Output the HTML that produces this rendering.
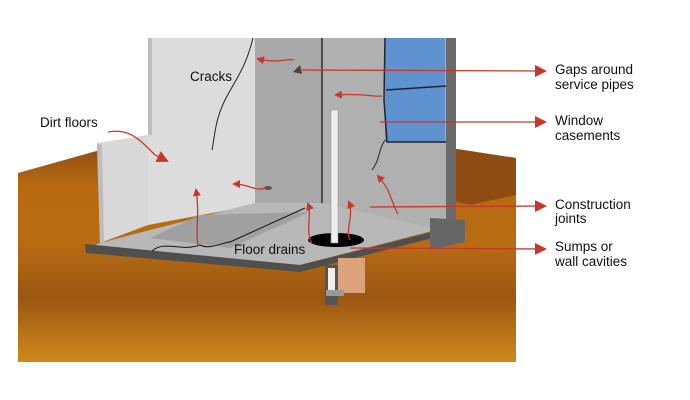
<!DOCTYPE html>
<html><head><style>
body{margin:0;background:#fff;width:690px;height:400px;overflow:hidden}
svg{display:block}
text{font-family:"Liberation Sans",sans-serif;font-size:13.5px;fill:#111}
</style></head><body>
<svg width="690" height="400" viewBox="0 0 690 400">
<defs>
<linearGradient id="soil" x1="0" y1="0" x2="0" y2="1">
<stop offset="0" stop-color="#8f4f12"/><stop offset="0.18" stop-color="#b86a10"/>
<stop offset="0.45" stop-color="#b76c12"/><stop offset="0.7" stop-color="#9b5612"/><stop offset="1" stop-color="#cf8a1c"/>
</linearGradient>
<marker id="ah" markerWidth="8" markerHeight="8" refX="6" refY="4" orient="auto" markerUnits="userSpaceOnUse"><path d="M0,0 L8,4 L0,8z" fill="#c8372a"/></marker>
<marker id="ab" markerWidth="12" markerHeight="12" refX="10" refY="6" orient="auto" markerUnits="userSpaceOnUse"><path d="M0,0 L12,6 L0,12z" fill="#c8372a"/></marker>
</defs>
<!-- soil -->
<path d="M18,173 L100,150 L450,148 L516,158 L516,362 L18,362z" fill="url(#soil)"/>
<path d="M450,148 L516,158 L516,195 L470,205 L450,200z" fill="#8e4c12"/>
<!-- walls -->
<path d="M148,38 L255,38 L255,205 L148,225z" fill="#dcdcdc"/>
<path d="M97,143 L148,135 L148,225 L100,243z" fill="#d8d8d8"/>
<path d="M97,143 L100,243 L104,243 L102,145z" fill="#bdbdbd"/>
<path d="M148,38 L152,38 L152,135 L148,135z" fill="#bdbdbd"/>
<path d="M255,38 L322,38 L322,203 L255,203z" fill="#a9a9a9"/>
<path d="M322,38 L450,38 L450,232 L322,205z" fill="#b0b0b0"/>
<rect x="385" y="38" width="60" height="104" fill="#5f93cf"/>
<path d="M385,38 L384,100 L387,142 L446,142 M386,90 L446,86" stroke="#1c2533" stroke-width="1.5" fill="none"/>
<rect x="446" y="38" width="10" height="190" fill="#6a6a6a"/>
<path d="M322,38 L322,203 L305,210" stroke="#111" stroke-width="1.2" fill="none"/>
<!-- floor -->
<path d="M100,243 L255,203 L322,203 L450,232 L455,225 L300,265 L88,248z" fill="#b8b8b8"/>
<path d="M150,238 L200,215 L310,212 L230,248z" fill="#a0a0a0"/>
<path d="M85,244 L300,265 L460,225 L460,231 L300,272 L86,253z" fill="#4f4f4f"/>
<path d="M430,218 L465,220 L465,242 L430,250z" fill="#666"/>
<rect x="325" y="265" width="13" height="40" fill="#555"/>
<rect x="338" y="258" width="27" height="35" fill="#dba27c"/>
<rect x="328" y="268" width="7" height="25" fill="#eee"/>
<rect x="326" y="290" width="18" height="6" fill="#999"/>
<ellipse cx="336" cy="240" rx="28" ry="7" fill="#000"/>
<rect x="331" y="110" width="7" height="133" fill="#eee" stroke="#999" stroke-width="0.6"/>
<!-- cracks -->
<path d="M253,38 C245,70 235,80 225,100 C215,120 215,135 212,150" stroke="#222" fill="none" stroke-width="1"/>
<path d="M385,140 C378,150 380,160 372,170" stroke="#222" fill="none" stroke-width="1"/>
<path d="M152,251 C165,240 180,252 200,245 C210,250 220,243 230,242 L305,208" stroke="#111" fill="none" stroke-width="1"/>
<path d="M293,72 L300,65 L302,74z" fill="#444"/>
<ellipse cx="268" cy="188" rx="4" ry="2" fill="#555"/>
<!-- red arrows -->
<g stroke="#c8372a" stroke-width="1.3" fill="none">
<path d="M294,60 C285,58 282,64 258,59" marker-end="url(#ah)"/>
<path d="M382,96 C370,97 365,93 336,95" marker-end="url(#ah)"/>
<path d="M266,188 C255,192 250,184 234,184" marker-end="url(#ah)"/>
<path d="M198,246 C195,230 200,215 196,190" marker-end="url(#ah)"/>
<path d="M312,244 C305,230 312,215 308,204" marker-end="url(#ah)"/>
<path d="M350,240 C345,230 354,215 349,202" marker-end="url(#ah)"/>
<path d="M398,214 C390,200 392,192 378,176" marker-end="url(#ah)"/>
<path d="M108,132 C130,128 140,140 155,155 L167,161" marker-end="url(#ab)"/>
<path d="M300,70 L545,71" marker-end="url(#ab)"/>
<path d="M380,122 L545,122" marker-end="url(#ab)"/>
<path d="M370,207 L545,206" marker-end="url(#ab)"/>
<path d="M350,248 L545,249" marker-end="url(#ab)"/>
</g>
<text x="190" y="81">Cracks</text>
<text x="40" y="127">Dirt floors</text>
<text x="234" y="254">Floor drains</text>
<text x="555" y="74">Gaps around</text>
<text x="555" y="89">service pipes</text>
<text x="555" y="125">Window</text>
<text x="555" y="140">casements</text>
<text x="555" y="209">Construction</text>
<text x="555" y="223">joints</text>
<text x="555" y="251">Sumps or</text>
<text x="555" y="266">wall cavities</text>
</svg>
</body></html>
